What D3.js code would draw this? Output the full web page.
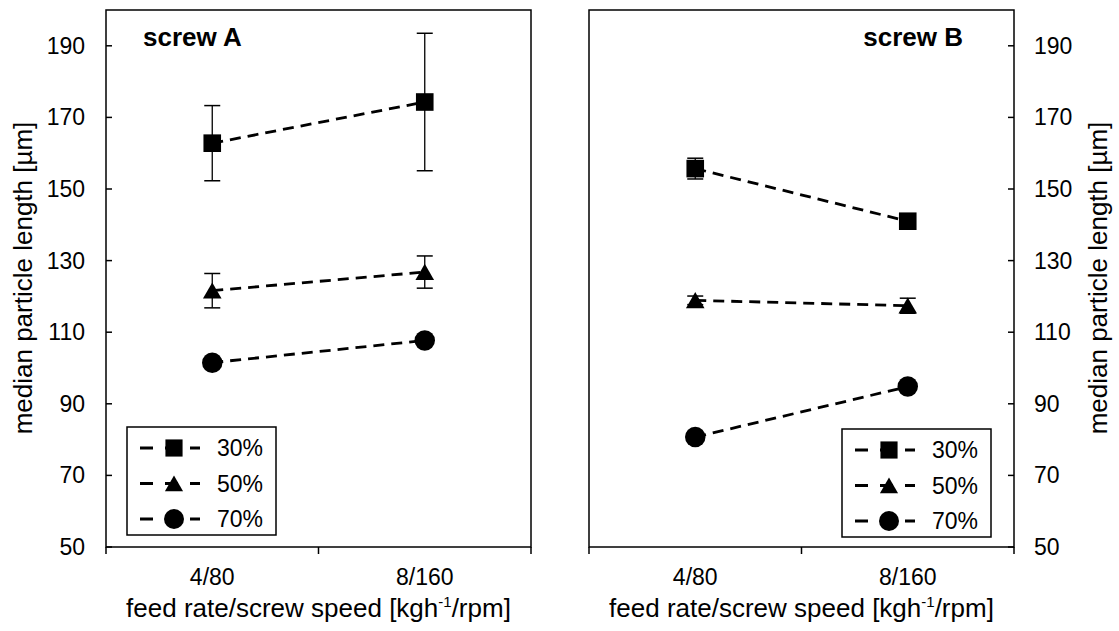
<!DOCTYPE html>
<html><head><meta charset="utf-8">
<script src="https://cdn.jsdelivr.net/npm/d3@7/dist/d3.min.js"></script>
<style>body{margin:0;background:#fff}svg{display:block}text{font-family:"Liberation Sans",Arial,sans-serif;fill:#000}</style>
</head><body><svg id="c" width="1119" height="631"></svg>
<script>
const categories = ["4/80", "8/160"];
const seriesNames = ["30%", "50%", "70%"];
const yTicks = [50, 70, 90, 110, 130, 150, 170, 190];
// screw A
const aVal30 = [162.8, 174.3], aErr30 = [10.5, 19.2];
const aVal50 = [121.6, 126.8], aErr50 = [4.8, 4.5];
const aVal70 = [101.5, 107.7], aErr70 = [0, 0];
// screw B
const bVal30 = [155.7, 141.0], bErr30 = [2.9, 0.8];
const bVal50 = [118.9, 117.4], bErr50 = [1.2, 2.1];
const bVal70 = [80.7, 94.8], bErr70 = [0, 0];

const svg = d3.select("#c");
const y = d3.scaleLinear().domain([50, 200]).range([547, 10]);
const shapes = [d3.symbolSquare, d3.symbolTriangle, d3.symbolCircle];
const sizes = [310, 150, 330];
const TICK_FS = 23, TITLE_FS = 26;

function panel(opts) {
  const x = d3.scaleBand().domain(categories).range([opts.x0, opts.x1]).padding(0);
  const g = svg.append("g");
  g.append("rect").attr("x", opts.x0).attr("y", 10).attr("width", opts.x1 - opts.x0).attr("height", 537)
    .attr("fill", "none").attr("stroke", "#000").attr("stroke-width", 1.5);
  const xt = [opts.x0, (opts.x0 + opts.x1) / 2, opts.x1];
  g.selectAll(".xt").data(xt).join("line").attr("x1", d => d).attr("x2", d => d)
    .attr("y1", 547).attr("y2", 554).attr("stroke", "#000").attr("stroke-width", 1.5);
  g.selectAll(".xl").data(categories).join("text").attr("x", d => x(d) + x.bandwidth() / 2)
    .attr("y", 585).attr("text-anchor", "middle").attr("font-size", TICK_FS).text(d => d);
  const xtitle = g.append("text").attr("x", (opts.x0 + opts.x1) / 2).attr("y", 617)
    .attr("text-anchor", "middle").attr("font-size", TITLE_FS);
  xtitle.append("tspan").text("feed rate/screw speed [kgh");
  xtitle.append("tspan").attr("font-size", 15).attr("dy", -10).text("-1");
  xtitle.append("tspan").attr("dy", 10).text("/rpm]");
  const ax = opts.side === "left" ? opts.x0 : opts.x1;
  const dir = opts.side === "left" ? 1 : -1;
  g.selectAll(".yt").data(yTicks).join("line").attr("x1", ax).attr("x2", ax + dir * 6)
    .attr("y1", d => y(d)).attr("y2", d => y(d)).attr("stroke", "#000").attr("stroke-width", 1.5);
  g.selectAll(".yl").data(yTicks).join("text")
    .attr("x", opts.side === "left" ? ax - 21 : ax + 20)
    .attr("y", d => y(d) + 8).attr("text-anchor", opts.side === "left" ? "end" : "start")
    .attr("font-size", TICK_FS).text(d => d);
  const ytx = opts.side === "left" ? 31.5 : 1107;
  g.append("text").attr("transform", `translate(${ytx},278) rotate(-90)`).attr("text-anchor", "middle")
    .attr("font-size", TITLE_FS).text("median particle length [µm]");
  g.append("text").attr("x", opts.titleX).attr("y", 46).attr("text-anchor", opts.titleAnchor)
    .attr("font-size", TITLE_FS).attr("font-weight", "bold").text(opts.title);
  opts.series.forEach((s, i) => {
    const pts = categories.map((c, j) => ({ x: x(c) + x.bandwidth() / 2, v: s.vals[j], e: s.errs[j] }));
    g.append("path").attr("d", d3.line().x(d => d.x).y(d => y(d.v))(pts))
      .attr("fill", "none").attr("stroke", "#000").attr("stroke-width", 2.8).attr("stroke-dasharray", "11,7");
    pts.forEach(p => {
      if (p.e > 0) {
        g.append("line").attr("x1", p.x).attr("x2", p.x).attr("y1", y(p.v - p.e)).attr("y2", y(p.v + p.e))
          .attr("stroke", "#000").attr("stroke-width", 1.3);
        [p.v - p.e, p.v + p.e].forEach(v => g.append("line").attr("x1", p.x - 8).attr("x2", p.x + 8)
          .attr("y1", y(v)).attr("y2", y(v)).attr("stroke", "#000").attr("stroke-width", 1.5));
      }
      g.append("path").attr("d", d3.symbol().type(shapes[i]).size(sizes[i])())
        .attr("transform", `translate(${p.x},${y(p.v) + (i === 1 ? 2.5 : 0)})`).attr("fill", "#000");
    });
  });
  const L = opts.legend;
  g.append("rect").attr("x", L.x).attr("y", L.y).attr("width", L.w).attr("height", L.h)
    .attr("fill", "#fff").attr("stroke", "#000").attr("stroke-width", 1.5);
  seriesNames.forEach((n, i) => {
    const ry = L.y + 21 + i * 35.5;
    g.append("line").attr("x1", L.x + 13).attr("x2", L.x + 73).attr("y1", ry).attr("y2", ry)
      .attr("stroke", "#000").attr("stroke-width", 2.8).attr("stroke-dasharray", "13,12");
    g.append("path").attr("d", d3.symbol().type(shapes[i]).size(sizes[i] * 0.95)())
      .attr("transform", `translate(${L.x + 47},${ry + (i === 1 ? 2.5 : 0)})`).attr("fill", "#000");
    g.append("text").attr("x", L.x + 90).attr("y", ry + 8).attr("font-size", TICK_FS).text(n);
  });
}

panel({ x0: 106, x1: 531, side: "left", title: "screw A", titleX: 143, titleAnchor: "start",
  series: [{ vals: aVal30, errs: aErr30 }, { vals: aVal50, errs: aErr50 }, { vals: aVal70, errs: aErr70 }],
  legend: { x: 127, y: 427, w: 149, h: 108 } });
panel({ x0: 589, x1: 1014, side: "right", title: "screw B", titleX: 963, titleAnchor: "end",
  series: [{ vals: bVal30, errs: bErr30 }, { vals: bVal50, errs: bErr50 }, { vals: bVal70, errs: bErr70 }],
  legend: { x: 842, y: 429, w: 149, h: 108 } });
</script></body></html>
